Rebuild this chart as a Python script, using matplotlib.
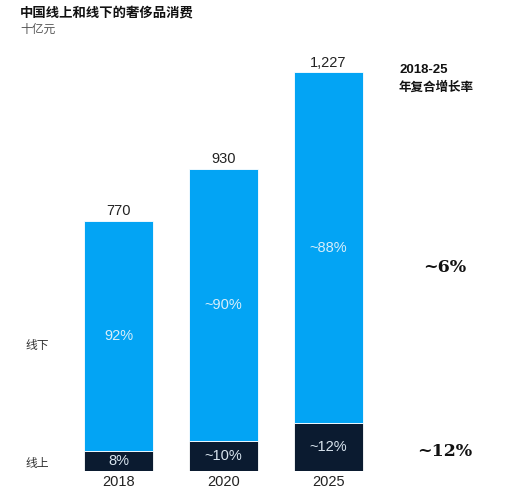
import matplotlib.pyplot as plt

plt.rcParams['font.family'] = ['Noto Sans CJK SC', 'DejaVu Sans']

years = ['2018', '2020', '2025']
totals = [770, 930, 1227]
online_share = [0.08, 0.10, 0.12]
online_labels = ['8%', '~10%', '~12%']
offline_labels = ['92%', '~90%', '~88%']
total_labels = ['770', '930', '1,227']
cagr_offline = '~6%'
cagr_online = '~12%'

light_blue = '#03A4F4'
navy = '#0B1B30'
sans = 'Liberation Sans'

fig = plt.figure(figsize=(5.09, 4.96), dpi=100)
# axes spans full width, from bar baseline (pixel 471) to top
ax = fig.add_axes([0, 25 / 496, 1, 471 / 496])
ax.set_xlim(-118.5 / 105, (509 - 118.5) / 105)
ax.set_ylim(0, 471 / 0.325)
ax.axis('off')

x = range(len(years))
online = [t * s for t, s in zip(totals, online_share)]
offline = [t - o for t, o in zip(totals, online)]

ax.bar(x, online, width=0.66, color=navy, edgecolor='white', linewidth=0.6)
ax.bar(x, offline, bottom=online, width=0.66, color=light_blue,
       edgecolor='white', linewidth=0.6)

for i in x:
    ax.text(i, online[i] / 2, online_labels[i], ha='center', va='center',
            color='#D8E4EE', fontsize=10.5, family=sans)
    ax.text(i, online[i] + offline[i] / 2, offline_labels[i], ha='center',
            va='center', color='#D8EEFA', fontsize=10.5, family=sans)
    ax.text(i, totals[i] + 8, total_labels[i], ha='center', va='bottom',
            color='#222222', fontsize=10.5, family=sans)
    ax.text(i, -12, years[i], ha='center', va='top', color='#222222',
            fontsize=10.5, family=sans)

# row labels
fig.text(25 / 509, 1 - 346 / 496, '线下', ha='left', va='center',
         fontsize=8.5, color='#333333')
fig.text(25 / 509, 1 - 463 / 496, '线上', ha='left', va='center',
         fontsize=8.5, color='#333333')

# CAGR column
fig.text(400 / 509, 1 - 70 / 496, '2018-25', ha='left', va='center',
         fontsize=9.5, fontweight='bold', color='#111111', family=sans)
fig.text(399 / 509, 1 - 87 / 496, '年复合增长率', ha='left', va='center',
         fontsize=9, fontweight='bold', color='#111111')
fig.text(445 / 509, 1 - 268 / 496, cagr_offline, ha='center', va='center',
         fontsize=12.5, fontweight='bold', color='#111111',
         family='DejaVu Serif')
fig.text(445 / 509, 1 - 452 / 496, cagr_online, ha='center', va='center',
         fontsize=12.5, fontweight='bold', color='#111111',
         family='DejaVu Serif')

# title
fig.text(20 / 509, 1 - 12 / 496, '中国线上和线下的奢侈品消费', ha='left',
         va='center', fontsize=9.6, fontweight='bold', color='#111111')
fig.text(20 / 509, 1 - 29 / 496, '十亿元', ha='left', va='center',
         fontsize=8.5, color='#555555')

fig.savefig('out.png', dpi=100)
